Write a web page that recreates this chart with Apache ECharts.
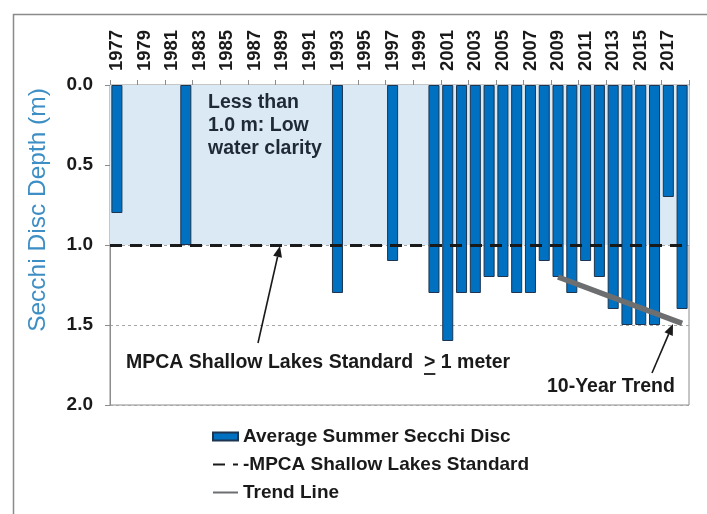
<!DOCTYPE html>
<html>
<head>
<meta charset="utf-8">
<script src="https://cdn.jsdelivr.net/npm/echarts@6/dist/echarts.min.js"></script>
<style>
html,body{margin:0;padding:0;background:#fff;}
#chart{width:707px;height:514px;}
</style>
</head>
<body>
<div id="chart"></div>
<script>
// ---- data ----
const years = ['1977','1978','1979','1980','1981','1982','1983','1984','1985','1986',
  '1987','1988','1989','1990','1991','1992','1993','1994','1995','1996',
  '1997','1998','1999','2000','2001','2002','2003','2004','2005','2006',
  '2007','2008','2009','2010','2011','2012','2013','2014','2015','2016',
  '2017','2018'];
const secchiDepth = [0.8, null, null, null, null, 1.0, null, null, null, null,
  null, null, null, null, null, null, 1.3, null, null, null,
  1.1, null, null, 1.3, 1.6, 1.3, 1.3, 1.2, 1.2, 1.3,
  1.3, 1.1, 1.2, 1.3, 1.1, 1.2, 1.4, 1.5, 1.5, 1.5,
  0.7, 1.4];
const standardDepth = 1.0;
const trendYears = ['2009', '2018'];
const trendValues = [1.2, 1.49];
const yTicks = [0, 0.5, 1.0, 1.5, 2.0];

// ---- chart ----
const FONT = '"Liberation Sans", Arial, Helvetica, sans-serif';
const TXT = '#1a1a1a';
const chart = echarts.init(document.getElementById('chart'), null, {renderer: 'canvas'});

function measure(text, font) {
  const c = document.createElement('canvas').getContext('2d');
  c.font = font;
  return c.measureText(text).width;
}
function arrow(x1, y1, x2, y2) {
  const ang = Math.atan2(y2 - y1, x2 - x1);
  const L = 11, W = 4.5;
  const bx = x2 - L * Math.cos(ang), by = y2 - L * Math.sin(ang);
  const px = -Math.sin(ang) * W, py = Math.cos(ang) * W;
  return [
    {type: 'line', shape: {x1: x1, y1: y1, x2: bx, y2: by}, style: {stroke: TXT, lineWidth: 1.6}, z: 20},
    {type: 'polygon', shape: {points: [[x2, y2], [bx + px, by + py], [bx - px, by - py]]}, style: {fill: TXT}, z: 20}
  ];
}

const annFont = 'bold 19.5px ' + FONT;
const mpcaPrefix = 'MPCA Shallow Lakes Standard  ';
const mpcaX = 126, mpcaY = 363;
const gtX = mpcaX + measure(mpcaPrefix, annFont);
const gtW = measure('>', annFont);
const hiddenSym = {color: 'rgba(0,0,0,0)', borderWidth: 0, opacity: 0};

const option = {
  animation: false,
  backgroundColor: '#fff',
  grid: {left: 110, right: 18, top: 85, bottom: 109, show: true,
    borderColor: '#8c8c8c', borderWidth: 1, backgroundColor: 'transparent'},
  legend: {
    orient: 'vertical', left: 207, top: 422, itemGap: 9,
    itemWidth: 25, itemHeight: 8,
    textStyle: {fontFamily: FONT, fontWeight: 'bold', fontSize: 19, color: TXT},
    data: [
      {name: 'Average Summer Secchi Disc', icon: 'rect'},
      {name: '-MPCA Shallow Lakes Standard', itemStyle: hiddenSym},
      {name: 'Trend Line', itemStyle: hiddenSym}
    ]
  },
  xAxis: {
    type: 'category', position: 'top', data: years,
    axisLine: {lineStyle: {color: '#8c8c8c', width: 1}},
    axisTick: {show: true, interval: 1, length: 5, lineStyle: {color: '#8c8c8c'}},
    axisLabel: {interval: 1, rotate: 90, margin: 14, fontFamily: FONT, fontWeight: 'bold',
      fontSize: 18.5, color: TXT},
    splitLine: {show: false}
  },
  yAxis: {
    type: 'value', inverse: true, min: yTicks[0], max: yTicks[yTicks.length - 1], interval: 0.5,
    axisLine: {show: true, lineStyle: {color: '#8c8c8c'}},
    axisTick: {show: true, length: 5, lineStyle: {color: '#8c8c8c'}},
    axisLabel: {margin: 17, fontFamily: FONT, fontWeight: 'bold', fontSize: 19, color: TXT,
      formatter: v => v.toFixed(1)},
    splitLine: {show: true, lineStyle: {color: '#a6a6a6', type: [3, 3], width: 1}}
  },
  series: [
    {
      name: 'Average Summer Secchi Disc', type: 'bar', data: secchiDepth,
      barWidth: '80%',
      itemStyle: {color: '#0070c0', borderColor: '#1d3550', borderWidth: 1},
      markArea: {silent: true, itemStyle: {color: '#dae9f4'},
        data: [[{yAxis: 0}, {yAxis: standardDepth}]]},
      markLine: {silent: true, symbol: ['none', 'none'], label: {show: false},
        lineStyle: {color: TXT, width: 3, type: [12, 8]},
        data: [{yAxis: standardDepth}], z: 5}
    },
    {
      name: '-MPCA Shallow Lakes Standard', type: 'line', data: [],
      symbol: 'none', lineStyle: {color: TXT, width: 3, type: [12, 8]}, itemStyle: {color: TXT}
    },
    {
      name: 'Trend Line', type: 'line', symbol: 'none', z: 6,
      data: trendYears.map((y, i) => [y, trendValues[i]]),
      lineStyle: {color: '#6d6e70', width: 5.5, cap: 'butt'}, itemStyle: {color: '#6d6e70'}
    }
  ],
  graphic: [
    {type: 'rect', shape: {x: 13.5, y: 14.5, width: 720, height: 520},
      style: {fill: null, stroke: '#8a8a8a', lineWidth: 1.5}, z: 0, silent: true},
    {type: 'text', x: 38, y: 210, rotation: Math.PI / 2,
      style: {text: 'Secchi Disc Depth (m)', font: '24.5px ' + FONT, fill: '#3d8ec4',
        align: 'center', verticalAlign: 'middle'}, z: 20},
    {type: 'text', x: 208, y: 91,
      style: {text: 'Less than\n1.0 m: Low\nwater clarity', font: annFont, lineHeight: 23,
        fill: '#1f2a36', align: 'left', verticalAlign: 'top'}, z: 20},
    {type: 'text', x: mpcaX, y: mpcaY,
      style: {text: 'MPCA Shallow Lakes Standard  > 1 meter', font: annFont, fill: TXT,
        align: 'left', verticalAlign: 'middle'}, z: 20},
    {type: 'line', shape: {x1: gtX, y1: mpcaY + 11, x2: gtX + gtW, y2: mpcaY + 11},
      style: {stroke: TXT, lineWidth: 1.8}, z: 20},
    {type: 'text', x: 547, y: 387,
      style: {text: '10-Year Trend', font: annFont, fill: TXT, align: 'left', verticalAlign: 'middle'}, z: 20}
  ].concat(arrow(258, 343, 280, 246)).concat(arrow(652, 373, 673, 324))
};
chart.setOption(option);
</script>
</body>
</html>
